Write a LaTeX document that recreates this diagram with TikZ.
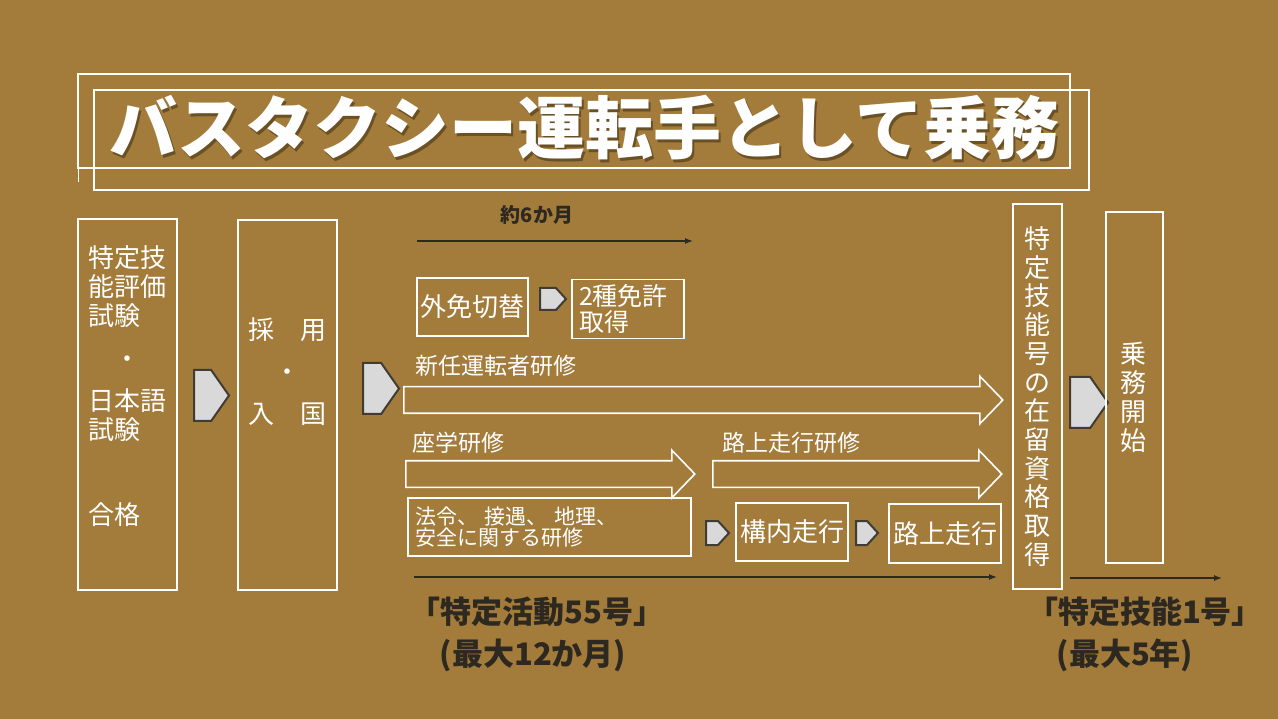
\documentclass[tikz,border=0pt]{standalone}
\usepackage{fontspec}
\newfontfamily\jpfont{Noto Sans CJK JP}
\newcommand\jpsz[2]{\jpfont\fontsize{#1}{#2}\selectfont}
\usetikzlibrary{shapes.symbols,shapes.arrows,arrows.meta,positioning}

\definecolor{bgbrown}{RGB}{163,123,58}
\definecolor{pentfill}{RGB}{217,217,217}
\definecolor{pentline}{RGB}{64,60,52}
\definecolor{darkink}{RGB}{45,40,32}

\tikzset{
  wbox/.style={draw=white, line width=1.8pt, inner sep=0pt, text=white},
  pent/.style={signal, signal to=east, draw=pentline, fill=pentfill, line width=2pt, inner sep=0pt, signal pointer angle=110, anchor=west},
  hollow/.style={single arrow, draw=white, line width=1.6pt, inner sep=12.5pt, single arrow head extend=10.5pt, single arrow tip angle=92, anchor=tail},
  timeline/.style={draw=darkink, line width=1.4pt, -{Latex[length=8pt,width=6pt]}},
  wtxt/.style={text=white, inner sep=0pt},
  dtxt/.style={text=darkink, inner sep=0pt}
}

\begin{document}
\begin{tikzpicture}[x=1pt,y=-1pt]
        \fill[bgbrown] (0,0) rectangle (1278,719);

        % title
        \draw[white, line width=1.8pt] (78,74) rectangle (1070,168);
        \draw[white, line width=1.8pt] (94,90) rectangle (1089,190);
        \draw[white, line width=1pt] (78,168) -- (78,182);
        \node[text=black, opacity=.35, inner sep=0pt, font=\jpsz{68}{68}\bfseries] (titleshadow) at (586.5,130.5) {バスタクシー運転手として乗務};
        \node[text=white, inner sep=0pt, font=\jpsz{68}{68}\bfseries] (title) at (584,128) {バスタクシー運転手として乗務};

        % first steps
        \node[wbox, minimum width=99pt, minimum height=371pt] (exam) at (127.5,404.5) {};
        \node[wtxt, align=left, anchor=north west, font=\jpsz{26}{29}] (examtxt) at (88,245) {特定技\\能評価\\試験\\[14pt]　・\\[13pt]日本語\\試験\\[56pt]合格};
        \node[pent, minimum width=35pt, minimum height=51pt] (arr1) at (193,395.5) {};
        \node[wbox, minimum width=99pt, minimum height=370pt] (hire) at (287.5,405) {};
        \node[wtxt, align=center, font=\jpsz{26}{42}] (hiretxt) at (287.5,372) {採　用\\・\\入　国};
        \node[pent, minimum width=36pt, minimum height=51pt] (arr2) at (362,388.5) {};

        % about six months
        \node[dtxt, font=\jpsz{20}{20}\bfseries] (sixmonths) at (537,215) {約6か月};
        \coordinate (m6s) at (417,241);
        \coordinate (m6e) at (693,241);
        \draw[timeline] (m6s) -- (m6e);

        \node[wbox, minimum width=111pt, minimum height=58pt, font=\jpsz{26}{26}] (gaimen) at (472.5,307) {外免切替};
        \node[pent, signal pointer angle=95, minimum width=26pt, minimum height=22pt] (arr3) at (539,299) {};
        \node[wbox, minimum width=112pt, minimum height=59pt, align=left, text width=98pt, font=\jpsz{25}{26}] (nishu) at (628,309) {2種免許\\取得};

        % training arrows
        \node[wtxt, font=\jpsz{23}{23}] (shinnintxt) at (496,366) {新任運転者研修};
        \node[hollow, minimum height=599pt] (shinnin) at (403,400) {};
        \node[wtxt, font=\jpsz{23}{23}] (zagakutxt) at (458,443) {座学研修};
        \node[hollow, minimum height=289pt] (zagaku) at (405,474) {};
        \node[wtxt, font=\jpsz{23}{23}] (rojotxt) at (791,443) {路上走行研修};
        \node[hollow, minimum height=289pt] (rojo) at (712,474) {};

        \node[wbox, minimum width=283pt, minimum height=58pt, align=left, text width=269pt, font=\jpsz{21}{19}] (horei) at (549.5,527) {法令、 接遇、 地理、\\安全に関する研修};
        \node[pent, signal pointer angle=95, minimum width=23pt, minimum height=24pt] (arr4) at (705,533) {};
        \node[wbox, minimum width=112pt, minimum height=58pt, font=\jpsz{26}{26}] (kounai) at (792,532) {構内走行};
        \node[pent, signal pointer angle=95, minimum width=22pt, minimum height=24pt] (arr5) at (855,533) {};
        \node[wbox, minimum width=112pt, minimum height=59pt, font=\jpsz{26}{26}] (rojobox) at (945,533.5) {路上走行};

        \coordinate (s55s) at (414,577);
        \coordinate (s55e) at (997,577);
        \draw[timeline] (s55s) -- (s55e);
        \node[dtxt, font=\jpsz{31}{31}\bfseries] (s55) at (537,612) {「特定活動55号」};
        \node[dtxt, font=\jpsz{31}{31}\bfseries] (s55max) at (533,655) {(最大12か月)};

        % status and start
        \node[wbox, minimum width=49pt, minimum height=385pt, align=center, font=\jpsz{26}{28.7}] (visa) at (1037.5,396.5) {特\\定\\技\\能\\号\\の\\在\\留\\資\\格\\取\\得};
        \node[pent, minimum width=38pt, minimum height=51pt] (arr6) at (1069,402.5) {};
        \node[wbox, minimum width=57pt, minimum height=351pt] (start) at (1134.5,387.5) {};
        \node[wtxt, align=center, font=\jpsz{26}{29}] (starttxt) at (1133,397) {乗\\務\\開\\始};

        \coordinate (g1s) at (1070,578);
        \coordinate (g1e) at (1222,578);
        \draw[timeline] (g1s) -- (g1e);
        \node[dtxt, font=\jpsz{31}{31}\bfseries] (g1) at (1145,612) {「特定技能1号」};
        \node[dtxt, font=\jpsz{31}{31}\bfseries] (g1max) at (1125,655) {(最大5年)};
\end{tikzpicture}
\end{document}
